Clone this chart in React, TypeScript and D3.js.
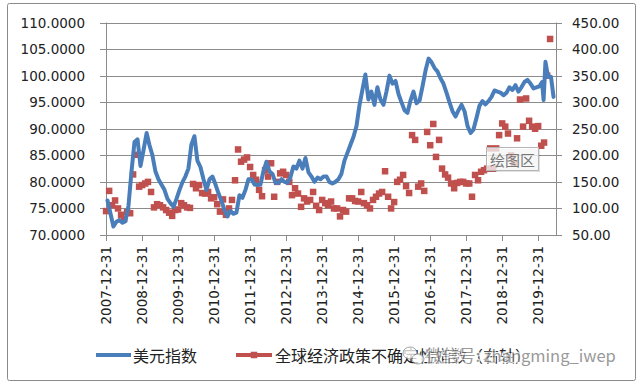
import React from 'react';
import * as d3 from 'd3';

// 美元指数, monthly readings (mid-month), 2008-2019
const dxy2008 = [76.5, 74.0, 71.6, 72.5, 72.8, 72.3, 72.6, 75.5, 82.0, 87.5, 88.0, 83.0];
const dxy2009 = [86.0, 89.2, 87.0, 85.0, 82.0, 80.5, 79.5, 78.5, 76.8, 76.0, 75.3, 76.8];
const dxy2010 = [78.5, 80.0, 81.0, 82.5, 87.0, 88.6, 84.0, 82.8, 80.5, 78.5, 80.5, 81.0];
const dxy2011 = [79.5, 77.8, 76.5, 74.7, 73.5, 74.5, 74.0, 74.2, 77.5, 77.0, 78.5, 80.5];
const dxy2012 = [80.5, 79.5, 79.4, 79.5, 82.0, 83.8, 82.0, 81.5, 79.8, 79.8, 80.5, 80.0];
const dxy2013 = [79.8, 81.0, 82.9, 82.5, 84.0, 82.5, 84.5, 81.8, 81.0, 80.0, 80.8, 80.5];
const dxy2014 = [81.0, 81.0, 80.0, 79.7, 80.0, 80.5, 81.5, 84.0, 85.5, 87.0, 88.5, 90.5];
const dxy2015 = [94.5, 97.5, 100.2, 95.5, 97.0, 94.5, 97.8, 95.5, 94.5, 97.0, 100.0, 98.5];
const dxy2016 = [99.0, 96.5, 95.0, 93.5, 93.0, 95.3, 97.0, 94.8, 95.3, 98.0, 101.0, 103.2];
const dxy2017 = [102.5, 101.4, 100.8, 99.5, 98.5, 96.8, 95.0, 93.3, 92.3, 93.5, 94.5, 93.3];
const dxy2018 = [90.5, 89.2, 89.8, 92.0, 94.3, 95.2, 94.6, 95.2, 96.0, 97.2, 97.0, 96.8];
const dxy2019 = [96.3, 96.8, 97.8, 97.3, 98.2, 97.0, 97.8, 98.8, 99.2, 98.5, 97.6, 97.8];
const dxy2020Dates = ['2020-01-15', '2020-02-10', '2020-02-25', '2020-03-15', '2020-04-10', '2020-05-10', '2020-06-05'];
const dxy2020Values = [98.0, 98.8, 95.4, 102.6, 99.8, 99.8, 96.0];

// 全球经济政策不确定性指数, monthly, 2008-01 .. 2020-05
const epu2008 = [95, 133, 106, 115, 100, 88, 80, 93, 91, 164, 201, 141];
const epu2009 = [144, 147, 150, 131, 102, 108, 106, 102, 97, 92, 86, 97];
const epu2010 = [98, 110, 106, 102, 101, 146, 138, 144, 129, 128, 131, 119];
const epu2011 = [121, 108, 94, 117, 88, 100, 116, 153, 211, 188, 192, 196];
const epu2012 = [178, 163, 154, 135, 123, 172, 160, 185, 122, 150, 166, 169];
const epu2013 = [163, 150, 125, 138, 128, 103, 119, 113, 116, 131, 105, 97];
const epu2014 = [116, 110, 106, 113, 100, 100, 85, 97, 94, 119, 119, 114];
const epu2015 = [113, 131, 110, 106, 100, 116, 122, 128, 131, 170, 122, 100];
const epu2016 = [112, 150, 154, 163, 142, 129, 238, 229, 141, 147, 133, 244];
const epu2017 = [219, 259, 197, 229, 175, 164, 158, 147, 138, 148, 150, 150];
const epu2018 = [147, 147, 122, 163, 153, 169, 172, 175, 213, 175, 213, 238];
const epu2019 = [260, 254, 241, 200, 185, 232, 305, 254, 307, 265, 254, 250];
const epu2020 = [255, 218, 224, 350, 419];

const xTickYears = [2007, 2008, 2009, 2010, 2011, 2012, 2013, 2014, 2015, 2016, 2017, 2018, 2019];
const leftTicks = [70, 75, 80, 85, 90, 95, 100, 105, 110];
const rightTicks = [50, 100, 150, 200, 250, 300, 350, 400, 450];

const seriesNames = ['美元指数', '全球经济政策不确定性指数（右轴）'];

const W = 641;
const H = 387;
const plot = { left: 106, right: 556, top: 22.5, bottom: 235 };
const BLUE = '#4a7ebb';
const RED = '#c0504d';
const GRID = '#8c8c8c';
const NUM_FONT = '"DejaVu Sans", sans-serif';
const CJK_FONT = '"Noto Sans CJK SC", sans-serif';

const dxyMonthly = [
  ...dxy2008, ...dxy2009, ...dxy2010, ...dxy2011, ...dxy2012, ...dxy2013,
  ...dxy2014, ...dxy2015, ...dxy2016, ...dxy2017, ...dxy2018, ...dxy2019,
];
const epuMonthly = [
  ...epu2008, ...epu2009, ...epu2010, ...epu2011, ...epu2012, ...epu2013,
  ...epu2014, ...epu2015, ...epu2016, ...epu2017, ...epu2018, ...epu2019, ...epu2020,
];

const dxyData = [
  ...dxyMonthly.map((v, i) => ({ date: new Date(Date.UTC(2008, i, 15)), value: v })),
  ...dxy2020Dates.map((d, i) => ({ date: new Date(d + 'T00:00:00Z'), value: dxy2020Values[i] })),
];
const epuData = epuMonthly.map((v, i) => ({ date: new Date(Date.UTC(2008, i, 1)), value: v }));

export default function App() {
  const x = d3.scaleUtc()
    .domain([new Date(Date.UTC(2007, 11, 31)), new Date(Date.UTC(2020, 5, 30))])
    .range([plot.left, plot.right]);
  const yLeft = d3.scaleLinear().domain([70, 110]).range([plot.bottom, plot.top]);
  const yRight = d3.scaleLinear().domain([50, 450]).range([plot.bottom, plot.top]);

  const line = d3.line<{ date: Date; value: number }>()
    .x(d => x(d.date))
    .y(d => yLeft(d.value));

  const m = 6.5; // marker size

  return (
    <>
      <style>{'body{margin:0}'}</style>
      <svg width={W} height={H} style={{ display: 'block', background: '#fff' }}>
        {/* chart area border */}
        <rect x={7.5} y={3.5} width={628} height={377} rx={2} fill="#fff" stroke="#8a8a8a" strokeWidth={1} />

        {/* gridlines + ticks */}
        {leftTicks.map(t => (
          <line key={'g' + t} x1={plot.left - 6} x2={plot.right} y1={Math.round(yLeft(t)) + 0.5} y2={Math.round(yLeft(t)) + 0.5}
            stroke={GRID} strokeWidth={1} />
        ))}
        {rightTicks.map(t => (
          <line key={'rt' + t} x1={plot.right} x2={plot.right + 6} y1={Math.round(yRight(t)) + 0.5} y2={Math.round(yRight(t)) + 0.5}
            stroke={GRID} strokeWidth={1} />
        ))}
        <line x1={plot.left + 0.5} x2={plot.left + 0.5} y1={plot.top} y2={plot.bottom + 1} stroke={GRID} />
        <line x1={plot.right + 0.5} x2={plot.right + 0.5} y1={plot.top} y2={plot.bottom + 1} stroke={GRID} />
        {xTickYears.map(yr => {
          const xx = Math.round(x(new Date(Date.UTC(yr, 11, 31)))) + 0.5;
          return <line key={'xt' + yr} x1={xx} x2={xx} y1={plot.bottom} y2={plot.bottom + 6} stroke={GRID} />;
        })}

        {/* left axis labels */}
        {leftTicks.map(t => (
          <text key={'ll' + t} x={85} y={yLeft(t)} textAnchor="end" dominantBaseline="central"
            fontFamily={NUM_FONT} fontSize={13.5} fill="#222">{t.toFixed(4)}</text>
        ))}
        {/* right axis labels */}
        {rightTicks.map(t => (
          <text key={'rl' + t} x={572} y={yRight(t)} textAnchor="start" dominantBaseline="central"
            fontFamily={NUM_FONT} fontSize={13.5} fill="#222">{t.toFixed(2)}</text>
        ))}
        {/* x axis labels */}
        {xTickYears.map(yr => {
          const xx = x(new Date(Date.UTC(yr, 11, 31)));
          return (
            <text key={'xl' + yr} transform={`translate(${xx},246) rotate(-90)`} textAnchor="end"
              dominantBaseline="central" fontFamily={NUM_FONT} fontSize={13.5} fill="#222">
              {`${yr}-12-31`}
            </text>
          );
        })}

        {/* EPU markers */}
        {epuData.map((d, i) => (
          <rect key={'e' + i} x={x(d.date) - m / 2} y={yRight(d.value) - m / 2} width={m} height={m} fill={RED} />
        ))}

        {/* DXY line */}
        <path d={line(dxyData) || ''} fill="none" stroke={BLUE} strokeWidth={4}
          strokeLinejoin="round" strokeLinecap="round" />

        {/* plot-area tooltip */}
        <g>
          <rect x={488} y={149} width={52} height={23} fill="#000" opacity={0.12} />
          <rect x={486.5} y={147.5} width={52} height={23} fill="#fff" fillOpacity={0.75} stroke="#b5b5b5" />
          <text x={512.5} y={159.5} textAnchor="middle" dominantBaseline="central" fontFamily={CJK_FONT}
            fontSize={15} fill="#777">绘图区</text>
        </g>

        {/* legend */}
        <line x1={96} x2={131} y1={355} y2={355} stroke={BLUE} strokeWidth={4} />
        <text x={133} y={355} dominantBaseline="central" fontFamily={CJK_FONT} fontSize={16} fill="#222">
          {seriesNames[0]}
        </text>
        <line x1={236} x2={272} y1={355} y2={355} stroke={RED} strokeWidth={4} />
        <rect x={254 - m / 2} y={355 - m / 2} width={m} height={m} fill={RED} />
        <text x={275} y={355} dominantBaseline="central" fontFamily={CJK_FONT} fontSize={16} fill="#222">
          {seriesNames[1]}
        </text>

        {/* watermark */}
        <g opacity={0.75}>
          <ellipse cx={410} cy={353} rx={7} ry={6} fill="#fff" stroke="#888" />
          <ellipse cx={418} cy={359} rx={6} ry={5} fill="#fff" stroke="#888" />
          <text x={426} y={355} dominantBaseline="central" fontFamily={CJK_FONT} fontSize={16.5}
            fill="#777" stroke="#fff" strokeWidth={2.5} paintOrder="stroke">微信号: zhangming_iwep</text>
        </g>
      </svg>
    </>
  );
}
